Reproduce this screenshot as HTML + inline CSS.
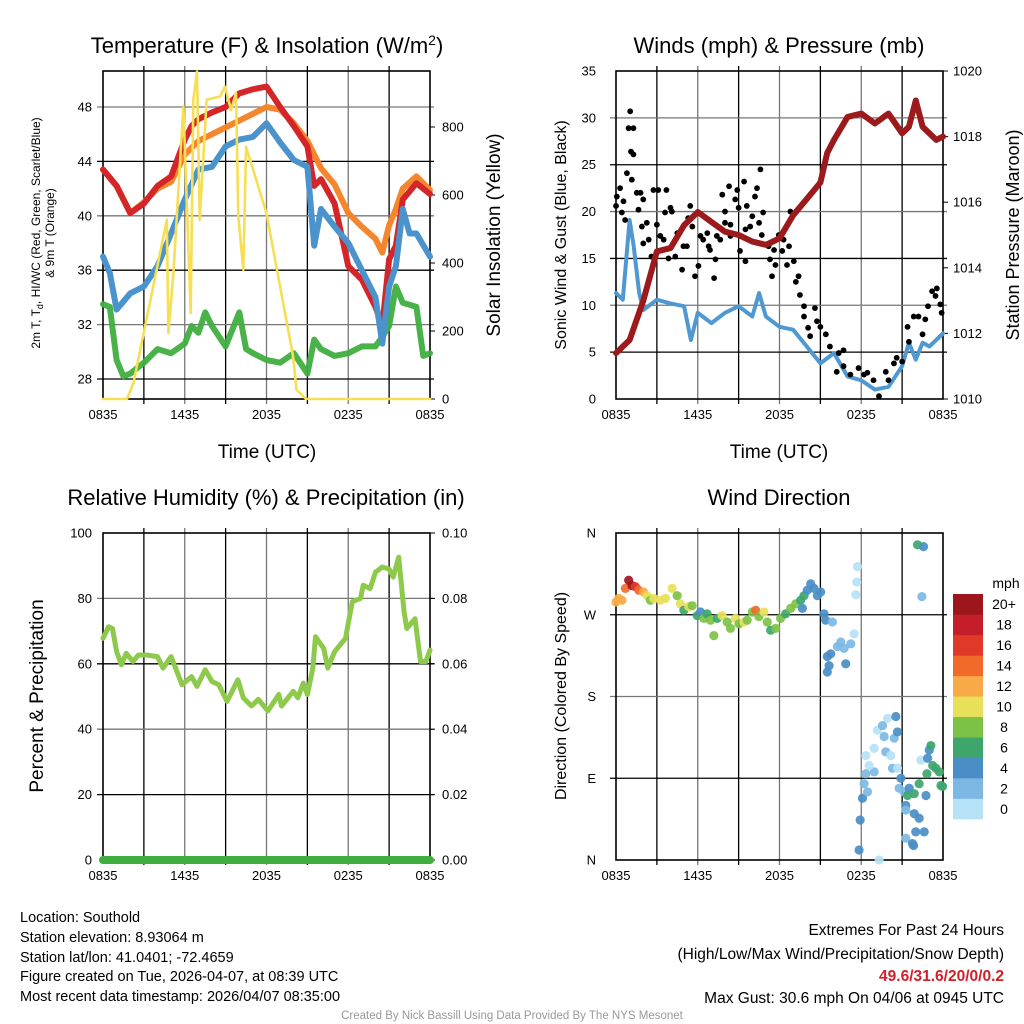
<!DOCTYPE html>
<html><head><meta charset="utf-8"><style>
html,body{margin:0;padding:0;background:#fff;}
svg{display:block;font-family:"Liberation Sans",Arial,sans-serif;}
</style></head><body>
<svg id="chart" width="1024" height="1024" viewBox="0 0 1024 1024" xmlns="http://www.w3.org/2000/svg">
<rect width="1024" height="1024" fill="#fff"/>
<g id="layer"></g>
<text x="267" y="53" font-size="22" text-anchor="middle">Temperature (F) &amp; Insolation (W/m<tspan dy="-8" font-size="14">2</tspan><tspan dy="8">)</tspan></text>
<text x="779" y="53" font-size="22" text-anchor="middle">Winds (mph) &amp; Pressure (mb)</text>
<text x="266" y="505" font-size="22" text-anchor="middle">Relative Humidity (%) &amp; Precipitation (in)</text>
<text x="779" y="505" font-size="22" text-anchor="middle">Wind Direction</text>
<text x="267" y="458" font-size="19" text-anchor="middle">Time (UTC)</text>
<text x="779" y="458" font-size="19" text-anchor="middle">Time (UTC)</text>
<text transform="translate(40,233) rotate(-90)" font-size="12" text-anchor="middle">2m T, T<tspan font-size="9" dy="3">d</tspan><tspan dy="-3">, HI/WC (Red, Green, Scarlet/Blue)</tspan></text>
<text transform="translate(54,233) rotate(-90)" font-size="12" text-anchor="middle">&amp; 9m T (Orange)</text>
<text transform="translate(500,235) rotate(-90)" font-size="19" text-anchor="middle">Solar Insolation (Yellow)</text>
<text transform="translate(566,235) rotate(-90)" font-size="16" text-anchor="middle">Sonic Wind &amp; Gust (Blue, Black)</text>
<text transform="translate(1019,235) rotate(-90)" font-size="18" text-anchor="middle">Station Pressure (Maroon)</text>
<text transform="translate(43,696) rotate(-90)" font-size="19" text-anchor="middle">Percent &amp; Precipitation</text>
<text transform="translate(566,696) rotate(-90)" font-size="16" text-anchor="middle">Direction (Colored By Speed)</text>
<g font-size="14.5">
<text x="20" y="922">Location: Southold</text>
<text x="20" y="942">Station elevation: 8.93064 m</text>
<text x="20" y="962">Station lat/lon: 41.0401; -72.4659</text>
<text x="20" y="981">Figure created on Tue, 2026-04-07, at 08:39 UTC</text>
<text x="20" y="1001">Most recent data timestamp: 2026/04/07 08:35:00</text>
</g>
<g font-size="15.5" text-anchor="end">
<text x="1004" y="935">Extremes For Past 24 Hours</text>
<text x="1004" y="959">(High/Low/Max Wind/Precipitation/Snow Depth)</text>
<text x="1004" y="981" fill="#d0202a" font-weight="bold">49.6/31.6/20/0/0.2</text>
<text x="1004" y="1003">Max Gust: 30.6 mph On 04/06 at 0945 UTC</text>
</g>
<text x="512" y="1019" font-size="11.5" fill="#999" text-anchor="middle">Created By Nick Bassill Using Data Provided By The NYS Mesonet</text>
</svg>
<script>
// ---- data (hours since 0835 UTC) ----
var xTickLabels = ["0835","1435","2035","0235","0835"];
var tempHours = [0,1,2,3,4,5,6,6.5,7,8,9,10,11,12,13,14,15,15.5,16,17,18,19,20,20.5,21,21.5,22,23,24];
var redT = [43.4,42.2,40.2,40.9,42.2,42.9,45.6,46.6,47.1,47.6,48.0,49.0,49.3,49.5,48.0,46.6,45.1,42.2,42.7,40.9,36.3,35.3,33.3,31.9,36.8,37.8,41.2,42.4,41.6];
var orangeT = [43.4,42.2,40.2,41.0,42.0,42.5,44.5,45.0,45.5,46.0,46.5,47.0,47.5,48.0,47.8,46.8,45.5,44.5,43.5,42.3,40.2,39.2,38.3,37.3,39.3,40.5,42.0,42.9,41.9];
var blueHours = [0,0.5,1,2,3,4,5,6,7,8,9,10,11,12,13,14,15,15.5,16,17,18,19,20,20.5,21,21.5,22,22.5,23,24];
var blueT = [37.0,35.8,33.1,34.3,34.8,36.3,38.7,41.2,43.4,43.6,45.1,45.6,45.8,46.8,45.4,44.1,43.6,37.8,40.5,39.2,38.0,36.0,34.0,30.6,34.8,36.3,40.5,38.7,38.7,37.0];
var dewHours = [0,0.5,1,1.5,2,3,4,5,6,6.5,7,7.5,8,9,10,10.5,11,12,13,14,15,15.5,16,17,18,19,20,20.5,21,21.5,22,23,23.5,24];
var dewT = [33.5,33.3,29.4,28.2,28.4,29.2,30.2,29.9,30.6,31.9,31.4,32.9,31.9,30.4,32.9,30.2,29.9,29.4,29.2,29.9,28.4,30.9,30.2,29.7,29.9,30.4,30.4,31.1,31.9,34.8,33.6,33.3,29.7,29.9];
var solarHours = [0,1.76,2.24,4.68,4.8,5.17,5.9,6.44,6.63,6.9,7.1,7.6,8.6,8.95,9.4,9.76,9.93,10.3,10.5,12,13.95,14.2,14.9,24];
var solarW = [0,0,47,527,194,370,860,253,880,963,527,880,890,919,850,900,537,380,742,546,125,27,0,0];
var tempTicks = [28,32,36,40,44,48];
var solarTicks = [0,200,400,600,800];

var presHours = [0,1,2,3,4,5,6,7,8,9,10,11,11.5,12,13,14,15,15.5,16,17,18,19,20,21,21.5,22,22.5,23,23.5,24];
var pressure = [1011.4,1011.8,1013.0,1014.5,1014.6,1015.3,1015.7,1015.4,1015.1,1015.0,1014.8,1014.7,1014.8,1014.9,1015.6,1016.1,1016.6,1017.5,1017.9,1018.6,1018.7,1018.4,1018.7,1018.1,1018.3,1019.1,1018.3,1018.1,1017.9,1018.0];
var windHours = [0,0.5,1,1.3,1.7,2,3,4,5,5.5,6,7,8,9,10,10.5,11,12,13,14,15,16,17,18,19,20,21,21.5,22,22.5,23,24];
var windSpeed = [11.3,10.6,19.1,16.3,11.3,9.5,10.6,10.2,9.9,6.3,9.2,8.1,9.2,9.9,8.8,11.3,8.8,7.7,7.4,5.6,3.8,4.9,2.4,2.0,1.0,1.3,3.5,6.0,4.2,6.0,5.6,7.0];
var gustHours = [0,0.06,0.3,0.55,0.43,0.67,0.8,0.92,1.04,1.28,1.1,1.28,1.16,1.53,1.8,1.65,2.0,1.9,2.26,2.0,2.4,2.6,2.75,3.1,3.0,3.25,3.5,3.7,3.6,4.0,4.1,3.85,4.35,4.5,4.85,4.95,5.2,5.3,5.45,5.6,5.8,6.05,6.2,6.4,6.7,6.8,6.9,7.2,7.3,7.4,7.65,7.8,8.0,8.0,8.3,8.4,8.4,8.75,8.9,9.1,9.0,9.4,9.5,9.5,9.6,9.85,10.0,10.2,10.35,10.6,10.5,10.7,10.8,11.2,11.3,11.45,11.6,11.7,11.95,12.2,12.3,12.55,12.7,12.8,13.05,13.2,13.4,13.5,13.8,13.8,14.1,14.25,14.6,14.75,15.0,15.4,15.7,16.35,16.7,16.2,16.7,17.2,17.8,18.2,18.45,18.9,19.3,19.8,20.0,20.4,20.6,21.0,21.4,21.5,21.85,22.2,22.5,22.7,22.9,23.2,23.45,23.55,23.8,23.9];
var gustSpeed = [20.6,21.6,22.5,21.1,19.9,19.1,24.1,28.9,30.7,28.9,26.4,26.1,23.4,22.0,22.0,20.2,21.3,18.4,18.8,16.6,17.0,15.2,22.3,22.3,18.6,17.4,17.0,22.3,19.9,20.4,20.0,15.0,15.2,17.7,13.8,16.3,16.3,19.3,20.6,18.4,13.1,14.2,17.4,17.0,17.7,16.3,15.9,12.9,14.9,17.4,17.0,21.8,20.0,18.8,22.7,18.6,17.4,21.3,22.3,15.8,20.4,23.2,18.1,14.7,20.6,18.4,19.5,21.6,22.5,24.5,18.8,17.5,19.9,16.3,14.9,13.1,15.9,14.3,17.5,15.8,17.0,14.3,16.3,20.0,14.7,12.5,13.1,11.1,9.9,8.8,7.6,6.7,9.7,8.3,7.7,6.9,5.6,4.9,5.2,2.9,3.5,2.6,3.3,2.6,2.8,2.0,0.3,2.9,2.0,3.8,4.4,4.0,7.7,6.1,8.8,8.8,6.9,8.5,9.9,11.5,11.0,11.8,10.1,9.2];
var windTicks = [0,5,10,15,20,25,30,35];
var presTicks = [1010,1012,1014,1016,1018,1020];

var rhHours = [0,0.4,0.7,1,1.35,1.7,2.2,2.6,3.2,4.0,4.4,5.0,5.8,6.5,6.9,7.5,8.0,8.5,9.1,9.9,10.3,10.9,11.4,12.1,12.9,13.1,13.97,14.3,14.7,15,15.4,15.6,16.2,16.5,17,17.8,18.3,18.9,19.1,19.6,20,20.5,21,21.3,21.7,22.1,22.3,22.7,22.9,23.3,23.7,24];
var rhValues = [67.8,71.3,70.8,63.7,59.7,63.2,60.7,62.7,62.7,62.2,58.7,62.2,53.6,56.1,53.1,58.2,54.6,53.6,48.5,55.1,49.6,47.1,49.1,45.6,50.6,47.1,51.6,49.6,54.1,50.6,58.7,68.3,64.7,58.7,63.7,67.8,79,80,84,83,88,89.6,89,86.5,92.6,75.8,70.8,72.8,73.8,60.7,60.7,64.2];
var precipHours = [0,24];
var precipValues = [0,0];
var rhTicks = [0,20,40,60,80,100];
var precipTicks = ["0.00","0.02","0.04","0.06","0.08","0.10"];

var dirHours = [0,0.2,0.44,0.69,0.93,1.18,1.42,1.67,2.03,2.28,2.52,2.77,3.26,3.63,4.12,4.49,4.73,4.98,5.34,5.59,5.96,6.2,6.45,6.69,6.94,7.18,7.43,7.79,8.16,8.4,8.77,9.02,9.39,9.63,10.0,10.25,10.49,10.86,11.1,11.35,11.72,12.08,12.45,12.82,13.19,13.55,13.8,14.04,14.29,14.53,14.78,15.02,13.68,15.27,15.39,15.88,15.51,15.76,15.64,15.51,16.25,16.5,16.74,17.23,16.86,17.48,17.72,17.67,17.6,22.13,22.57,22.45,17.84,19.31,17.92,18.09,18.21,18.33,18.46,18.95,18.58,18.33,18.95,19.19,19.56,19.93,20.54,19.68,20.42,20.66,19.8,20.17,20.29,20.66,20.91,20.78,21.15,21.52,21.4,21.89,22.25,22.75,21.27,21.27,21.89,22.25,22.0,22.62,21.27,21.76,21.84,22.38,22.87,22.99,23.11,23.24,23.48,23.73,22.82,23.85,23.97];
var dirDegrees = [284,288,286,299,308,302,301,297,295,291,286,288,286,288,299,291,282,275,279,280,269,273,266,271,264,247,266,269,262,255,266,260,262,264,273,275,268,273,262,253,255,266,271,277,282,286,291,297,304,299,291,295,277,271,264,262,224,227,214,207,235,240,233,238,216,249,323,306,292,347,345,290,11,0,44,68,84,95,75,97,104,115,123,143,148,156,158,136,134,141,119,115,101,101,90,79,75,79,71,73,84,71,60,55,51,46,31,31,24,18,16,110,112,121,126,104,101,97,95,82,81];
var dirSpeeds = [12,12,12,14,20,20,16,14,12,10,8,10,10,10,10,8,10,6,10,8,6,4,8,6,8,8,6,10,8,8,10,8,10,8,8,14,8,10,8,6,8,8,6,8,8,6,6,4,4,4,4,4,4,4,4,2,4,4,4,4,2,2,2,2,4,0,0,0,0,6,4,2,4,0,4,4,2,2,2,2,0,0,0,0,2,0,4,2,2,4,2,0,2,0,4,2,2,4,6,6,6,4,4,2,4,4,4,4,2,4,4,0,4,4,6,6,6,6,6,6,6];
var dirTickLabels = ["N","E","S","W","N"];
var colorbarLabels = ["0","2","4","6","8","10","12","14","16","18","20+"];
var colorbarColors = ["#b6e2f8","#7cb8e4","#4a8ec6","#3ea66c","#7cc246","#e8e058","#f8aa48","#f26a2a","#e0392a","#c41e2a","#9c161c"];

// ---- drawing ----
var NS="http://www.w3.org/2000/svg";
var layer=document.getElementById('layer');
function mk(tag,attrs,parent){var e=document.createElementNS(NS,tag);for(var k in attrs)e.setAttribute(k,attrs[k]);(parent||layer).appendChild(e);return e;}
function panel(x0,x1,y0,y1){return {x0:x0,x1:x1,y0:y0,y1:y1,x:function(h){return x0+(x1-x0)*h/24;}};}
function lin(d0,d1,p0,p1){return function(v){return p0+(v-d0)*(p1-p0)/(d1-d0);};}

function frame(P,name,hTicks){
  var g=mk('g',{});
  
  
  for(var i=1;i<8;i++){var xx=P.x(i*3);mk('line',{x1:xx,x2:xx,y1:P.y0-5,y2:P.y1+5,stroke:i%2?'#000':'#777','stroke-width':1.3},g);}
  hTicks.forEach(function(yy,i){mk('line',{x1:P.x0-6,x2:P.x1+4,y1:yy,y2:yy,stroke:i%2?'#777':'#000','stroke-width':1.3},g);});
  var r=mk('rect',{x:P.x0,y:P.y0,width:P.x1-P.x0,height:P.y1-P.y0,fill:'none',stroke:'#000','stroke-width':1.6});
  
  
}
function xlabels(P,name){
  xTickLabels.forEach(function(l,i){var t=mk('text',{x:P.x(i*6),y:P.y1+20,'font-size':13,'text-anchor':'middle'});t.textContent=l;
    
    });
}
function ylabel(x,y,s,anchor,name){var t=mk('text',{x:x,y:y+4.5,'font-size':13,'text-anchor':anchor});t.textContent=s;
  
  }
function rtick(P,yy){mk('line',{x1:P.x1,x2:P.x1+5,y1:yy,y2:yy,stroke:'#000','stroke-width':1});}
function poly(P,hs,vs,ys,attrs,name){
  var pts=hs.map(function(h,i){return P.x(h).toFixed(1)+','+ys(vs[i]).toFixed(1);}).join(' ');
  attrs.points=pts;attrs.fill='none';attrs['stroke-linejoin']='round';attrs['stroke-linecap']='round';
  var e=mk('polyline',attrs);
  
  
}

// Panel 1
var P1=panel(103,430,71,399);
var yT=lin(28,48,379,107), yS=lin(0,800,399,127);
frame(P1,'temperature',tempTicks.map(yT));
tempTicks.forEach(function(v){ylabel(92,yT(v),String(v),'end','temperature-y-tick-label');});
solarTicks.forEach(function(v){rtick(P1,yS(v));ylabel(442,yS(v),String(v),'start','solar-y-tick-label');});
xlabels(P1,'temperature');
poly(P1,dewHours,dewT,yT,{stroke:'#3fae3f','stroke-width':6,opacity:0.95},'dewpoint-line');
poly(P1,tempHours,orangeT,yT,{stroke:'#f5862e','stroke-width':6},'9m-temperature-line');
poly(P1,tempHours,redT,yT,{stroke:'#d42528','stroke-width':6},'2m-temperature-line');
poly(P1,blueHours,blueT,yT,{stroke:'#4b93cc','stroke-width':6},'heat-index-windchill-line');
poly(P1,solarHours,solarW,yS,{stroke:'#f6df54','stroke-width':2.6},'solar-insolation-line');

// Panel 2
var P2=panel(616,943,71,399);
var yW=lin(0,35,399,71), yP=lin(1010,1020,399,71);
frame(P2,'winds',windTicks.slice(1,7).map(yW));
windTicks.forEach(function(v){ylabel(596,yW(v),String(v),'end','wind-y-tick-label');});
presTicks.forEach(function(v){rtick(P2,yP(v));ylabel(953,yP(v),String(v),'start','pressure-y-tick-label');});
xlabels(P2,'winds');
poly(P2,windHours,windSpeed,yW,{stroke:'#4f98d2','stroke-width':4},'sonic-wind-line');
gustHours.forEach(function(h,i){var c=mk('circle',{cx:P2.x(h),cy:yW(gustSpeed[i]),r:2.9,fill:'#000'});
  
  });
poly(P2,presHours,pressure,yP,{stroke:'#9c1a1c','stroke-width':6},'station-pressure-line');

// Panel 3
var P3=panel(103,430,533,860);
var yR=lin(0,100,860,533);
frame(P3,'humidity',rhTicks.slice(1,5).map(yR));
rhTicks.forEach(function(v,i){ylabel(92,yR(v),String(v),'end','humidity-y-tick-label');rtick(P3,yR(v));ylabel(442,yR(v),precipTicks[i],'start','precip-y-tick-label');});
xlabels(P3,'humidity');
poly(P3,rhHours,rhValues,yR,{stroke:'#8dc94a','stroke-width':5},'relative-humidity-line');
var yPr=lin(0,0.1,860,533);
poly(P3,precipHours,precipValues,yPr,{stroke:'#3fae3f','stroke-width':8},'precipitation-line');

// Panel 4
var P4=panel(616,943,533,860);
var yD=lin(0,360,860,533);
frame(P4,'wind-direction',[90,180,270].map(yD));
dirTickLabels.forEach(function(l,i){ylabel(596,yD(i*90),l,'end','direction-y-tick-label');});
xlabels(P4,'wind-direction');
function spdColor(s){var k=Math.min(10,Math.round(s/2));return colorbarColors[k];}
dirHours.forEach(function(h,i){var c=mk('circle',{cx:P4.x(h),cy:yD(dirDegrees[i]),r:4.6,fill:spdColor(dirSpeeds[i]),opacity:0.92});
  
  });

// Colorbar
var cbTop=594,cbBot=819,cbH=(cbBot-cbTop)/colorbarColors.length;
colorbarColors.forEach(function(col,i){var yy=cbBot-(i+1)*cbH;
  var r=mk('rect',{x:953,y:yy,width:30,height:cbH+0.3,fill:col});
  
  
  var t=mk('text',{x:1004,y:yy+cbH/2+5,'font-size':14,'text-anchor':'middle'});t.textContent=colorbarLabels[i];
  
  });
var mt=mk('text',{x:1006,y:588,'font-size':14,'text-anchor':'middle'});mt.textContent='mph';


</script>
</body></html>
